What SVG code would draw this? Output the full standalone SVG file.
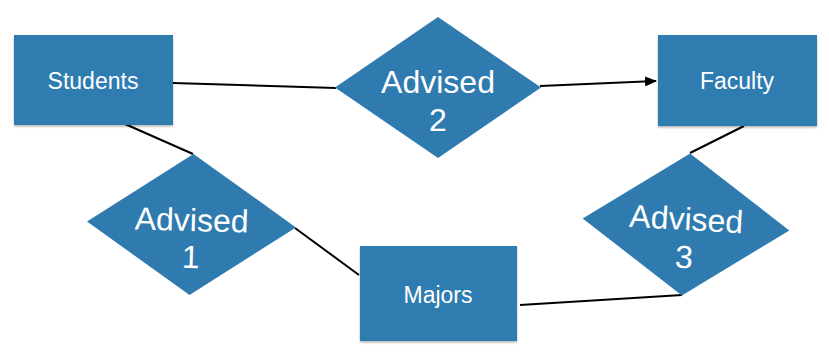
<svg xmlns="http://www.w3.org/2000/svg" width="829" height="362" viewBox="0 0 829 362">
<style>
.box{fill:#2f7bb0;filter:url(#sh)}
.dia{fill:#2f7bb0}
.lbl{fill:#fff;font-family:"Liberation Sans",Arial,sans-serif;text-anchor:middle}
.s{font-size:23px}
.b{font-size:32px}
.ln{stroke:#000;stroke-width:2;fill:none}
</style>
<defs>
<filter id="sh" x="-10%" y="-10%" width="120%" height="125%">
<feDropShadow dx="0" dy="1.5" stdDeviation="1.2" flood-color="#000" flood-opacity="0.3"/>
</filter>
<marker id="arr" markerWidth="12" markerHeight="10" refX="11" refY="5" orient="auto" markerUnits="userSpaceOnUse">
<path d="M0,0 L12,5 L0,10 Z" fill="#000"/>
</marker>
</defs>
<g id="connectors">
<line class="ln" x1="173" y1="83" x2="336" y2="88"/>
<line class="ln" x1="540" y1="86" x2="656" y2="81" marker-end="url(#arr)"/>
<line class="ln" x1="125" y1="124" x2="193" y2="154"/>
<line class="ln" x1="295" y1="228" x2="359" y2="275"/>
<line class="ln" x1="744" y1="126" x2="690" y2="153"/>
<line class="ln" x1="520" y1="305" x2="682" y2="295"/>
</g>
<g id="students">
<rect class="box" x="14" y="35" width="159" height="90"/>
<text class="lbl s" x="93" y="89">Students</text>
</g>
<g id="faculty">
<rect class="box" x="658" y="35" width="159" height="91"/>
<text class="lbl s" x="737" y="89">Faculty</text>
</g>
<g id="majors">
<rect class="box" x="360" y="246" width="157" height="95"/>
<text class="lbl s" x="438" y="303">Majors</text>
</g>
<g id="advised2">
<polygon class="dia" points="438,17 541,87.5 438,158 335,87.5"/>
<text class="lbl b" x="438" y="93">Advised</text>
<text class="lbl b" x="438" y="131">2</text>
</g>
<g id="advised1" transform="rotate(1.6 191.5 224.5)">
<polygon class="dia" points="191.5,154 296,224.5 191.5,295 87,224.5"/>
<text class="lbl b" x="191.5" y="231">Advised</text>
<text class="lbl b" x="191.5" y="268">1</text>
</g>
<g id="advised3" transform="rotate(3.3 686 224.5)">
<polygon class="dia" points="686,153.5 789.5,224.5 686,295.5 582.5,224.5"/>
<text class="lbl b" x="686" y="230">Advised</text>
<text class="lbl b" x="686" y="268">3</text>
</g>
</svg>
